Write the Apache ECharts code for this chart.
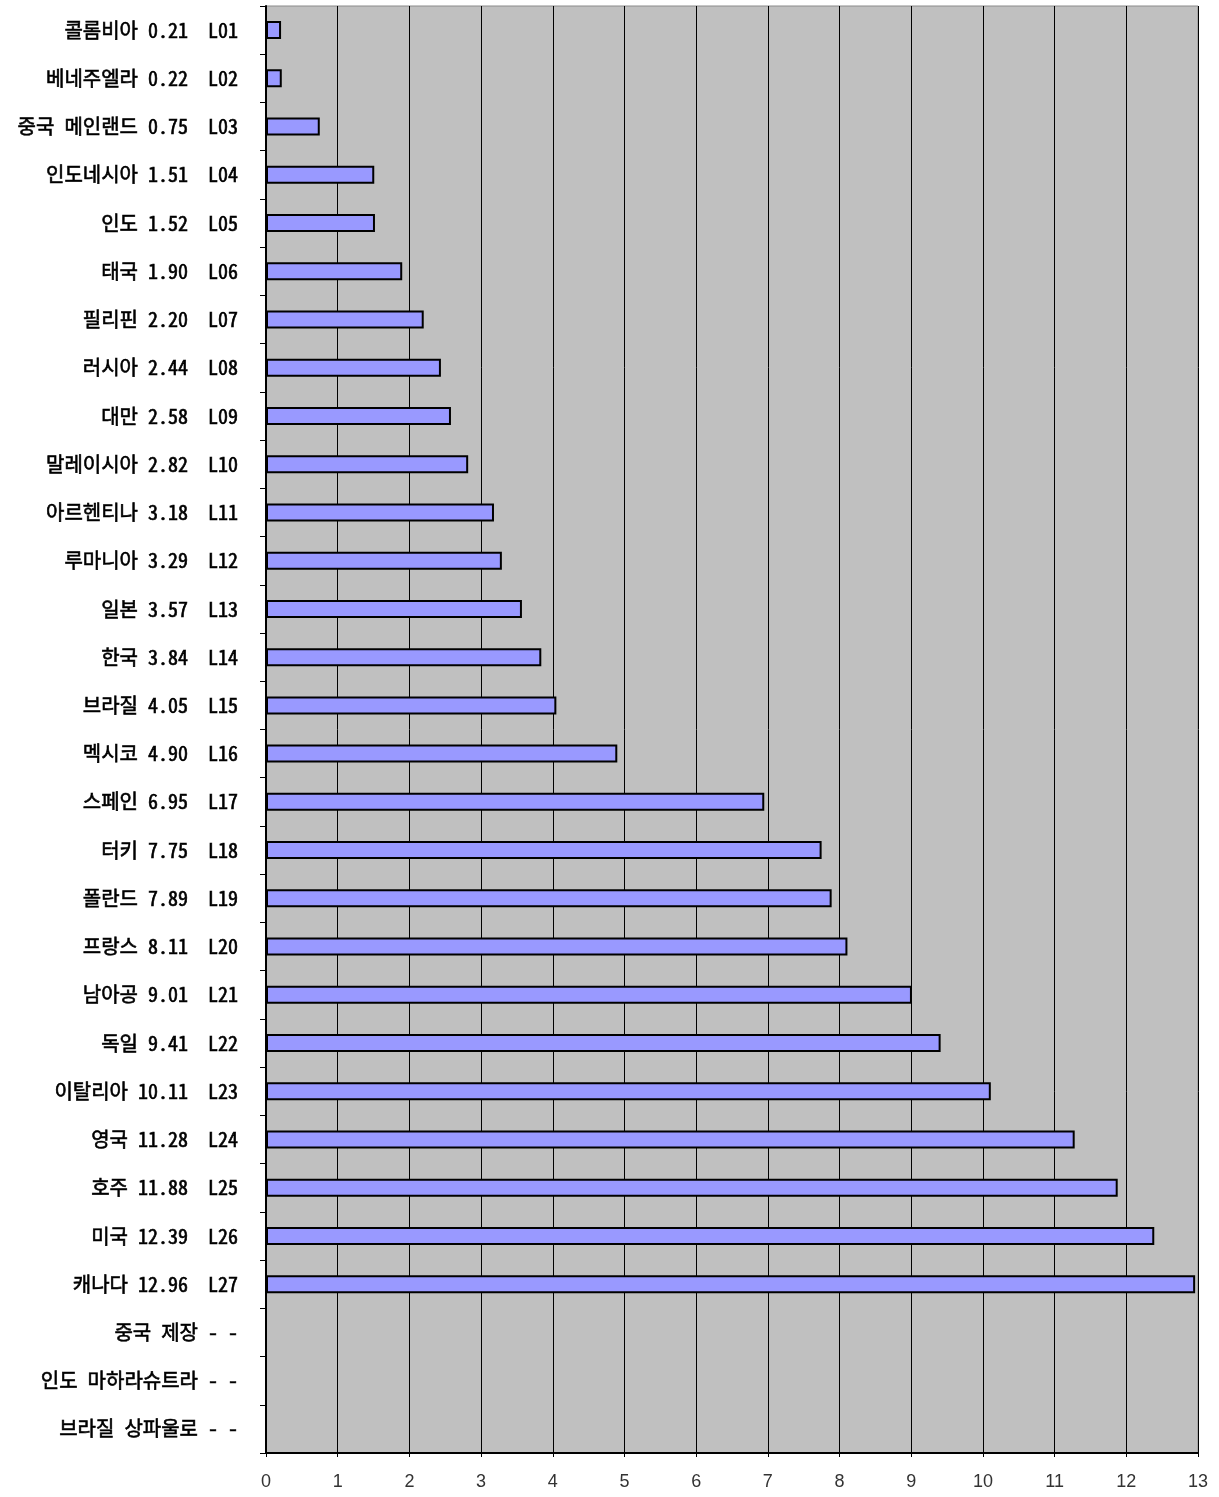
<!DOCTYPE html>
<html><head><meta charset="utf-8">
<script src="https://cdn.jsdelivr.net/npm/echarts@6/dist/echarts.min.js"></script>
<style>html,body{margin:0;padding:0;background:#fff}#c{width:1219px;height:1497px}</style>
</head><body><div id="c"></div>
<script>
const names = ['콜롬비아','베네주엘라','중국 메인랜드','인도네시아','인도','태국','필리핀','러시아','대만','말레이시아','아르헨티나','루마니아','일본','한국','브라질','멕시코','스페인','터키','폴란드','프랑스','남아공','독일','이탈리아','영국','호주','미국','캐나다','중국 제장','인도 마하라슈트라','브라질 상파울로'];
const values = [0.21,0.22,0.75,1.51,1.52,1.90,2.20,2.44,2.58,2.82,3.18,3.29,3.57,3.84,4.05,4.90,6.95,7.75,7.89,8.11,9.01,9.41,10.11,11.28,11.88,12.39,12.96,null,null,null];
const codes = ['L01','L02','L03','L04','L05','L06','L07','L08','L09','L10','L11','L12','L13','L14','L15','L16','L17','L18','L19','L20','L21','L22','L23','L24','L25','L26','L27','-','-','-'];
const xTicks = [0,1,2,3,4,5,6,7,8,9,10,11,12,13];

const labels = names.map((n,i)=> values[i]==null ? n + ' - -' : n + ' ' + values[i].toFixed(2) + '  ' + codes[i]);

const chart = echarts.init(document.getElementById('c'));
chart.setOption({
  animation:false,
  grid:{left:266,right:21,top:6,bottom:44,show:true,backgroundColor:'#C0C0C0',borderColor:'#8a8a8a',borderWidth:1},
  xAxis:{type:'value',min:xTicks[0],max:xTicks[xTicks.length-1],interval:1,
    axisLine:{show:true,lineStyle:{color:'#000',width:2}},
    axisTick:{show:true,length:4,lineStyle:{color:'#000'}},
    splitLine:{show:true,lineStyle:{color:'#000',width:1}},
    axisLabel:{color:'#333',fontSize:18,margin:20,fontFamily:'Liberation Sans, Arial, sans-serif'}},
  yAxis:{type:'category',data:labels,inverse:true,
    axisLine:{show:true,lineStyle:{color:'#000',width:2}},
    axisTick:{show:true,length:6,alignWithLabel:false,lineStyle:{color:'#000'}},
    axisLabel:{color:'#000',fontSize:20,margin:28,fontFamily:'"Noto Sans Mono CJK KR", "Noto Sans CJK KR", monospace',fontWeight:'normal',textBorderColor:'#000',textBorderWidth:0.6}},
  series:[{type:'bar',data:values,barWidth:18,
    itemStyle:{color:'#9999FF',borderColor:'#000',borderWidth:2}}]
});
</script></body></html>
